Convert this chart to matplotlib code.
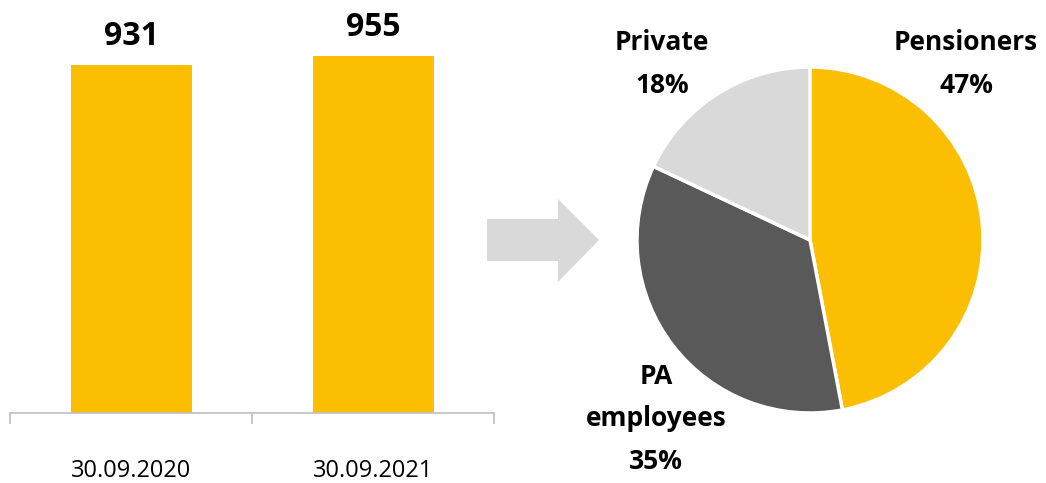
import matplotlib
matplotlib.use("Agg")
import matplotlib.pyplot as plt
from matplotlib.patches import Polygon

plt.rcParams['font.family'] = ['Open Sans', 'DejaVu Sans']

# Data
bar_categories = ["30.09.2020", "30.09.2021"]
bar_values = [931, 955]
pie_labels = ["Pensioners", "PA\nemployees", "Private"]
pie_shares = [47, 35, 18]

YELLOW = "#FBBE00"
DARK = "#595959"
LIGHT = "#D9D9D9"

W, H = 1046, 483
fig = plt.figure(figsize=(W / 100, H / 100), dpi=100)

def box(x0, y0, x1, y1):
    # pixel box (top-left origin) -> figure fraction rect
    return [x0 / W, 1 - y1 / H, (x1 - x0) / W, (y1 - y0) / H]

# ---- Bar chart ----
ax = fig.add_axes(box(10, 2, 494, 413))
xs = list(range(len(bar_values)))
ax.bar(xs, bar_values, width=0.5, color=YELLOW)
ax.set_xlim(-0.5, len(bar_values) - 0.5)
ax.set_ylim(0, 1100)
for s in ["top", "left", "right"]:
    ax.spines[s].set_visible(False)
ax.spines["bottom"].set_color("#BFBFBF")
ax.spines["bottom"].set_linewidth(1.2)
ax.set_yticks([])
ax.set_xticks(xs)
ax.set_xticklabels(bar_categories, fontsize=17)
ax.tick_params(axis="x", which="major", length=0, pad=33)
ax.set_xticks([x - 0.5 for x in xs] + [xs[-1] + 0.5], minor=True)
ax.tick_params(axis="x", which="minor", length=8, color="#BFBFBF", width=1.2)
for x, v in zip(xs, bar_values):
    ax.annotate(f"{v}", (x, v), xytext=(0, 9), textcoords="offset points",
                ha="center", va="bottom", fontsize=23, fontweight="bold")

# ---- Arrow ----
arrow_px = [(487, 219), (558, 219), (558, 199), (599, 240), (558, 282), (558, 261), (487, 261)]
fig.patches.append(Polygon([(x / W, 1 - y / H) for x, y in arrow_px], closed=True,
                           transform=fig.transFigure, facecolor=LIGHT, edgecolor="none"))

# ---- Pie chart ----
pax = fig.add_axes(box(610, 40, 1010, 440))
pax.pie(pie_shares, colors=[YELLOW, DARK, LIGHT], startangle=90, counterclock=False,
        radius=0.865, wedgeprops=dict(edgecolor="white", linewidth=2.5))
pax.set_xlim(-1, 1)
pax.set_ylim(-1, 1)
pax.set_aspect("equal")
pax.axis("off")

def px2d(px, py):
    return ((px - 810) / 200, (240 - py) / 200)

label_pos = [(966, 64), (656, 419), (662, 64)]
for lab, sh, (lx, ly) in zip(pie_labels, pie_shares, label_pos):
    x, y = px2d(lx, ly)
    pax.text(x, y, f"{lab}\n{sh}%", ha="center", va="center", fontsize=19,
             fontweight="bold", linespacing=1.72, clip_on=False)

fig.savefig("out.png", dpi=100)
